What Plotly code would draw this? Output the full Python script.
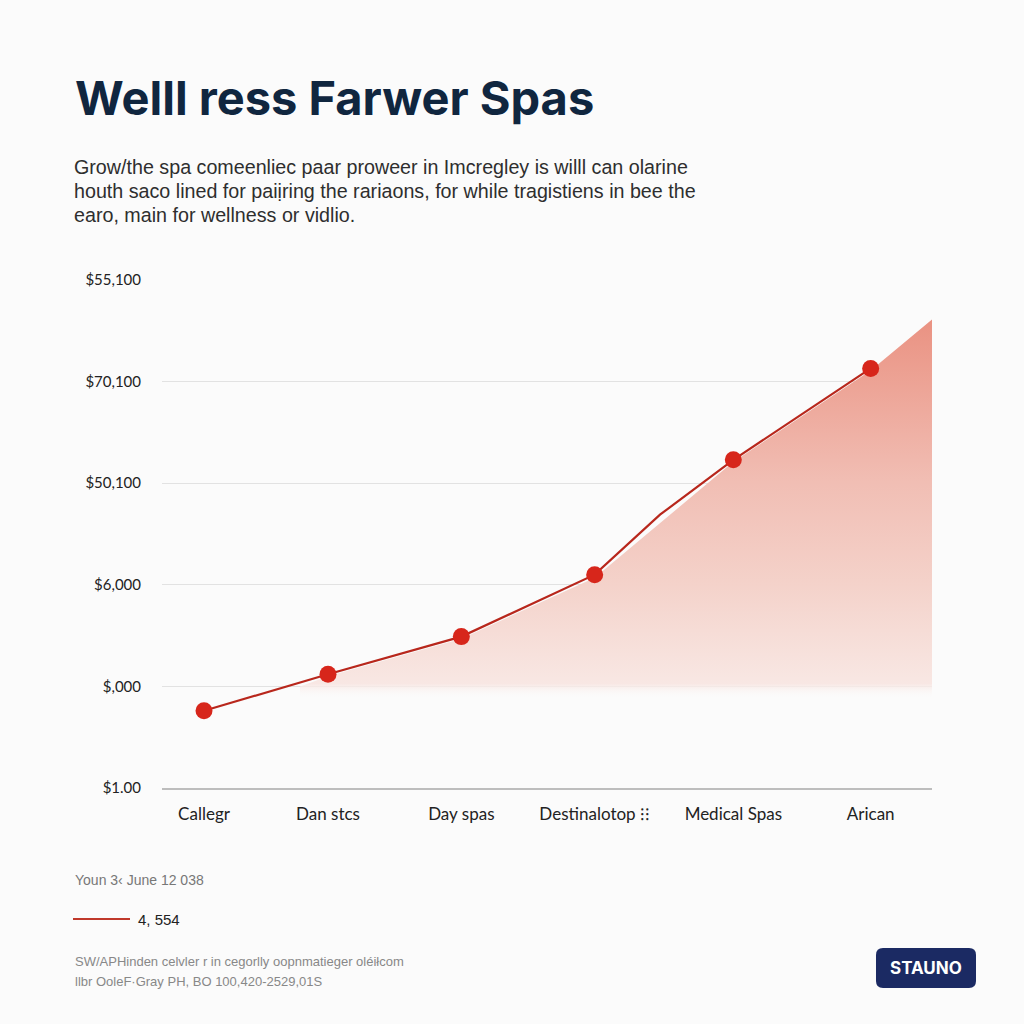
import plotly.graph_objects as go

# ---- data ----
categories = ["Callegr", "Dan stcs", "Day spas", "Destinalotop ⁝⁝", "Medical Spas", "Arican"]
cat_pos = [0, 0.93, 1.93, 2.93, 3.97, 5.0]
values = [0.76, 1.12, 1.49, 2.10, 3.23, 4.13]
# drawn line path (includes the small bend between Destination and Medical spas)
line_x = [0, 0.93, 1.93, 2.93, 3.42, 3.97, 5.0]
line_y = [0.76, 1.12, 1.49, 2.10, 2.69, 3.23, 4.13]
y_tick_vals = [0, 1, 2, 3, 4, 5]
y_tick_text = ["$1.00", "$,000", "$6,000", "$50,100", "$70,100", "$55,100"]
# shaded area top edge (starts where the line crosses the $,000 gridline, runs to the right edge)
area_x = [0.72, 0.93, 1.93, 2.93, 3.97, 5.0, 5.46]
area_y = [1.0, 1.10, 1.47, 2.07, 3.21, 4.11, 4.61]
area_base = 0.88

W, H = 1024, 1024
L, R, T, B = 162, 932, 280, 788


def px(x):
    return (x - L) / (R - L)


def py(y):
    return (B - y) / (B - T)


fig = go.Figure()

# gradient area
poly_x = area_x + area_x[::-1]
poly_y = area_y + [area_base] * len(area_x)
fig.add_trace(go.Scatter(
    x=poly_x, y=poly_y, mode="lines", line=dict(width=0),
    fill="toself",
    fillgradient=dict(type="vertical",
                      colorscale=[[0, "rgba(251,251,251,0)"],
                                  [0.04, "rgba(248,230,226,0.95)"],
                                  [0.30, "rgb(244,210,202)"],
                                  [0.57, "rgb(241,190,180)"],
                                  [1, "rgb(234,146,130)"]]),
    hoverinfo="skip", showlegend=False,
))

# main line
fig.add_trace(go.Scatter(
    x=line_x, y=line_y, mode="lines",
    line=dict(color="#b8271c", width=2.2),
    hoverinfo="skip", showlegend=False,
))
# markers
fig.add_trace(go.Scatter(
    x=cat_pos, y=values, mode="markers",
    marker=dict(color="#d7261b", size=17),
    showlegend=False,
))

fig.update_layout(
    width=W, height=H,
    paper_bgcolor="#fbfbfb", plot_bgcolor="#fbfbfb",
    margin=dict(l=L, r=W - R, t=T, b=H - B, autoexpand=False),
    xaxis=dict(range=[-0.315, 5.46], tickvals=cat_pos, ticktext=categories,
               showgrid=False, zeroline=False, showline=True, linecolor="#bdbdbd",
               linewidth=1.5, ticks="", ticklabelstandoff=10,
               tickfont=dict(family="Lato", size=17, color="#222")),
    yaxis=dict(range=[0, 5.0], tickvals=y_tick_vals, ticktext=y_tick_text,
               showgrid=True, gridcolor="#e2e2e2", gridwidth=1, zeroline=False,
               showline=False, ticks="", ticklabelstandoff=20,
               tickfont=dict(family="Lato", size=15, color="#222")),
    font=dict(family="Lato"),
)

ann = []
ann.append(dict(text="<b>Welll ress Farwer Spas</b>", x=px(73), y=py(98), xanchor="left",
                yanchor="middle", font=dict(family="Inter", size=47, color="#10263f")))
subtitle = ["Grow/the spa comeenliec paar proweer in Imcregley is willl can olarine",
            "houth saco lined for paiịring the rariaons, for while tragistiens in bee the",
            "earo, main for wellness or vidlio."]
for i, line in enumerate(subtitle):
    ann.append(dict(text=line, x=px(72), y=py(167 + 24 * i), xanchor="left", yanchor="middle",
                    font=dict(family="Liberation Sans", size=19.7, color="#2e2e2e")))
ann.append(dict(text="Youn 3‹ June 12 038", x=px(73), y=py(880), xanchor="left", yanchor="middle",
                font=dict(family="Liberation Sans", size=14, color="#777")))
ann.append(dict(text="4, 554", x=px(136), y=py(919), xanchor="left", yanchor="middle",
                font=dict(family="Liberation Sans", size=15, color="#222")))
ann.append(dict(text="SW/APHinden celvler r in cegorlly oopnmatieger oléiłcom", x=px(73), y=py(961),
                xanchor="left", yanchor="middle",
                font=dict(family="Liberation Sans", size=13, color="#888")))
ann.append(dict(text="llbr OoleF·Gray PH, BO 100,420-2529,01S", x=px(73), y=py(981),
                xanchor="left", yanchor="middle",
                font=dict(family="Liberation Sans", size=13, color="#888")))
ann.append(dict(text="<b>STAUNO</b>", x=px(926), y=py(968), xanchor="center", yanchor="middle",
                font=dict(family="Inter", size=17, color="white")))
for a in ann:
    a.update(xref="paper", yref="paper", showarrow=False)
fig.update_layout(annotations=ann)

# legend sample line
fig.add_shape(type="line", xref="paper", yref="paper", x0=px(73), x1=px(130), y0=py(919), y1=py(919),
              line=dict(color="#c0392b", width=2))

# rounded badge
x0, x1, y0, y1, r = 876, 976, 948, 988, 7


def P(x, y):
    return f"{px(x):.5f},{py(y):.5f}"


path = (f"M {P(x0 + r, y0)} L {P(x1 - r, y0)} Q {P(x1, y0)} {P(x1, y0 + r)} "
        f"L {P(x1, y1 - r)} Q {P(x1, y1)} {P(x1 - r, y1)} L {P(x0 + r, y1)} "
        f"Q {P(x0, y1)} {P(x0, y1 - r)} L {P(x0, y0 + r)} Q {P(x0, y0)} {P(x0 + r, y0)} Z")
fig.add_shape(type="path", xref="paper", yref="paper", path=path,
              fillcolor="#1b2a63", line=dict(width=0), layer="below")

fig.write_html("out.html", config={"displayModeBar": False},
               post_script="document.body.style.margin='0';document.body.style.background='#fbfbfb';")
